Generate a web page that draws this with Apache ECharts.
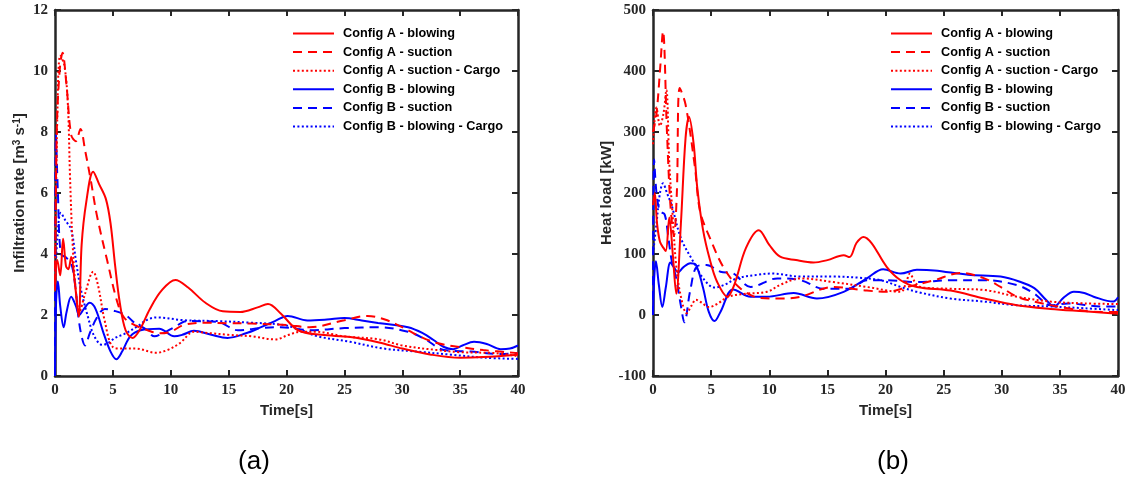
<!DOCTYPE html>
<html>
<head>
<meta charset="utf-8">
<script src="https://cdn.jsdelivr.net/npm/echarts@6/dist/echarts.min.js"></script>
<style>
  html, body { margin: 0; padding: 0; background: #ffffff; }
  #chart { width: 1131px; height: 477px; }
</style>
</head>
<body>
<div id="chart"></div>
<script>
// Series names shared by both panels
const seriesNames = [
  'Config A - blowing',
  'Config A - suction',
  'Config A - suction - Cargo',
  'Config B - blowing',
  'Config B - suction',
  'Config B - blowing - Cargo'
];

// Axis ranges
const timeRange = { min: 0, max: 40, interval: 5 };
const infilRange = { min: 0, max: 12, interval: 2 };
const heatRange = { min: -100, max: 500, interval: 100 };

// (a) Infiltration rate [m3/s] vs time [s]
const infilABlowing = [[0,2.8],[0.2,3.8],[0.45,3.3],[0.7,4.5],[0.95,3.6],[1.15,3.5],[1.4,3.9],[1.7,3.1],[2.05,1.95],[2.3,4.3],[2.7,5.7],[3.3,6.7],[3.8,6.3],[4.4,5.8],[4.8,5.0],[5.2,3.6],[5.6,2.4],[6.1,1.5],[6.7,1.25],[7.3,1.5],[8.2,2.2],[9.2,2.8],[10.4,3.15],[11.5,2.9],[13,2.4],[14.5,2.12],[16,2.1],[17.5,2.25],[18.4,2.36],[19.5,2.05],[21,1.5],[23,1.35],[25.5,1.28],[28,1.1],[30,0.9],[32.5,0.7],[35,0.6],[37,0.62],[40,0.7]];
const infilASuction = [[0,3.0],[0.15,8.0],[0.4,10.0],[0.65,10.6],[1.0,9.5],[1.4,7.9],[1.8,7.7],[2.2,8.1],[2.6,7.4],[3.1,6.4],[3.6,5.3],[4.5,3.8],[5.4,2.4],[6.0,1.9],[7,1.65],[8,1.5],[9,1.4],[10,1.45],[11.1,1.67],[13,1.75],[15,1.73],[17,1.72],[20,1.67],[22,1.6],[25,1.83],[27,1.97],[28.5,1.85],[30,1.6],[31.5,1.3],[33,1.08],[35,0.95],[37,0.85],[40,0.75]];
const infilACargo = [[0,3.0],[0.2,8.5],[0.45,10.5],[0.8,10.2],[1.1,9.0],[1.3,6.5],[1.5,4.5],[1.8,2.8],[2.1,2.1],[2.6,2.7],[3.3,3.42],[3.7,3.0],[4.3,1.8],[5.0,0.95],[5.8,0.9],[7,0.9],[8.7,0.76],[9.7,0.85],[10.8,1.08],[12,1.45],[13.5,1.4],[15,1.35],[17,1.3],[19,1.2],[20.2,1.35],[21.2,1.45],[22.5,1.45],[25,1.3],[28,1.2],[30,1.0],[33,0.85],[35,0.78],[38,0.75],[40,0.65]];
const infilBBlowing = [[0,0],[0.1,2.5],[0.25,3.1],[0.45,2.3],[0.75,1.6],[1.0,2.1],[1.4,2.6],[1.8,2.3],[2.1,2.0],[2.5,2.2],[3.0,2.4],[3.5,2.2],[4.2,1.4],[4.8,0.8],[5.3,0.55],[5.8,0.8],[6.5,1.3],[7.4,1.5],[9,1.55],[10.3,1.3],[11,1.35],[12,1.48],[13.5,1.35],[14.9,1.25],[16.5,1.4],[17.8,1.6],[19,1.8],[20.1,1.97],[21.8,1.82],[23.5,1.85],[25,1.9],[26.5,1.82],[27.9,1.74],[30.5,1.6],[31.8,1.4],[32.7,1.18],[33.6,0.95],[34.4,0.88],[35.2,1.0],[36.2,1.12],[37.3,1.05],[38.5,0.88],[39.3,0.9],[40,1.0]];
const infilBSuction = [[0,0],[0.08,7.9],[0.25,6.0],[0.5,4.0],[0.9,3.9],[1.4,3.7],[1.8,2.8],[2.0,2.0],[2.3,1.3],[2.6,1.0],[3.0,1.4],[3.6,1.9],[4.3,2.2],[5.0,2.15],[6.1,2.0],[7,1.7],[7.8,1.55],[8.6,1.3],[9.3,1.4],[10.3,1.6],[11.4,1.8],[14,1.78],[15.8,1.5],[17.8,1.57],[19.5,1.6],[22.1,1.5],[25,1.57],[27.9,1.6],[30.5,1.45],[32,1.2],[33.6,0.85],[35.9,0.8],[38.5,0.72],[40,0.75]];
const infilBCargo = [[0,3.0],[0.2,4.5],[0.5,5.35],[0.9,5.1],[1.4,4.8],[1.8,3.8],[2.2,2.9],[2.8,2.0],[3.4,1.3],[4.1,1.02],[4.6,1.08],[5.2,1.25],[6,1.38],[7,1.6],[8,1.85],[8.8,1.92],[11.1,1.83],[14,1.8],[16.9,1.75],[19.8,1.67],[21.3,1.5],[22.7,1.3],[25.5,1.12],[28.4,0.9],[31.3,0.8],[34.2,0.7],[37.1,0.6],[40,0.56]];

// (b) Heat load [kW] vs time [s]
const heatABlowing = [[0,180],[0.15,200],[0.35,150],[0.6,120],[0.9,110],[1.1,105],[1.4,160],[1.7,100],[2.0,35],[2.4,150],[2.8,290],[3.1,325],[3.5,280],[3.8,210],[4.3,140],[4.9,90],[5.5,55],[6.4,30],[7.0,50],[8,110],[9.1,139],[10,115],[10.9,96],[12.3,90],[13.8,86],[15,90],[16.4,98],[16.9,95],[17.5,118],[18.1,128],[18.8,118],[20.1,79],[21.3,57],[22.7,46],[25.6,40],[28.5,27],[31.3,16],[34.2,10],[37.1,6],[40,2]];
const heatASuction = [[0,300],[0.3,330],[0.6,400],[0.86,465],[1.2,300],[1.5,180],[1.8,130],[2.05,200],[2.3,372],[2.8,345],[3.6,243],[4.05,170],[4.9,126],[6.1,77],[7.5,44],[9.2,28],[11.2,27],[12.7,30],[15.5,46],[18.4,40],[20.1,38],[21.9,46],[24.2,57],[26.5,69],[28.5,60],[29.9,46],[31.3,30],[32.8,22],[35.7,11],[38.4,5],[40,5]];
const heatACargo = [[0,280],[0.3,340],[0.6,310],[0.9,330],[1.15,369],[1.4,250],[1.7,160],[2.0,80],[2.4,30],[2.9,3],[3.3,15],[3.7,25],[4.2,20],[4.8,13],[5.5,18],[6.5,30],[8,35],[9.8,38],[11,50],[12.7,60],[15.5,54],[18.4,46],[21.3,38],[21.8,55],[22.1,68],[22.5,55],[23,46],[25.6,43],[28.5,41],[31.3,30],[34.2,22],[37.1,19],[40,18]];
const heatBBlowing = [[0,0],[0.1,60],[0.25,88],[0.5,50],[0.8,13],[1.1,45],[1.5,86],[1.8,78],[2.15,70],[2.6,78],[3.2,85],[3.7,82],[4.3,45],[4.8,5],[5.3,-10],[5.8,5],[6.9,42],[8.4,30],[9.8,30],[12.1,36],[14.1,27],[16.4,38],[18.4,60],[19.8,75],[21.3,68],[22.7,74],[24.2,73],[27.1,66],[29.9,63],[31.5,55],[32.8,44],[33.8,25],[34.5,14],[35.3,28],[36.2,38],[37.1,36],[37.9,30],[39.6,22],[40,29]];
const heatBSuction = [[0,0],[0.1,255],[0.3,200],[0.6,170],[1.0,165],[1.3,130],[1.6,90],[2.0,60],[2.4,15],[2.7,-12],[3.2,40],[3.8,80],[4.6,82],[5.8,71],[6.9,68],[8.4,46],[10.7,60],[12.7,57],[14.7,43],[16.9,43],[18.4,57],[20.1,57],[22.7,54],[25.6,57],[28.5,57],[31.3,49],[32.8,35],[34.2,16],[35.7,19],[38.6,14],[40,14]];
const heatBCargo = [[0,100],[0.3,150],[0.6,200],[0.86,216],[1.2,200],[1.6,180],[2.4,126],[3.3,93],[4.4,58],[5.3,45],[6.2,50],[7.2,60],[9,66],[10.2,68],[12.7,63],[15.5,63],[17.8,61],[19.6,57],[21.3,46],[22.7,38],[25.6,27],[28.5,22],[31.3,16],[34.2,14],[37.1,11],[40,8]];

const infilData = [infilABlowing, infilASuction, infilACargo, infilBBlowing, infilBSuction, infilBCargo];
const heatData = [heatABlowing, heatASuction, heatACargo, heatBBlowing, heatBSuction, heatBCargo];

// Line colour and dash per series
const lineColors = ['#ff0000', '#ff0000', '#ff0000', '#0000ff', '#0000ff', '#0000ff'];
const lineTypes = ['solid', [9, 6], [2, 2.4], 'solid', [9, 6], [2, 2.4]];

const frameColor = '#262626';
const tickFont = { fontFamily: 'Liberation Serif', fontWeight: 'bold', fontSize: 15, color: '#262626' };
const titleFont = { fontFamily: 'Liberation Sans', fontWeight: 'bold', fontSize: 15, color: '#262626' };

function frameAxis(extra) {
  return Object.assign({
    type: 'value',
    axisLine: { show: true, onZero: false, lineStyle: { color: frameColor, width: 2.5 } },
    axisTick: { show: true, inside: true, length: 6, lineStyle: { color: frameColor, width: 2 } },
    splitLine: { show: false },
    axisLabel: { show: false }
  }, extra);
}

function labelledAxis(extra) {
  return frameAxis(Object.assign({
    axisLabel: Object.assign({ show: true, margin: 7 }, tickFont)
  }, extra));
}

const xAxes = [];
const yAxes = [];
[0, 1].forEach(g => {
  xAxes.push(labelledAxis(Object.assign({
    gridIndex: g, position: 'bottom',
    name: 'Time[s]', nameLocation: 'middle', nameGap: 26, nameTextStyle: titleFont
  }, timeRange)));
  xAxes.push(frameAxis(Object.assign({ gridIndex: g, position: 'top' }, timeRange)));
});

yAxes.push(labelledAxis(Object.assign({
  gridIndex: 0, position: 'left',
  name: 'Infiltration rate [m{sup|3} s{sup|-1}]', nameLocation: 'middle', nameGap: 28,
  nameTextStyle: Object.assign({}, titleFont, {
    rich: { sup: { fontFamily: 'Liberation Sans', fontWeight: 'bold', fontSize: 10, color: '#262626', verticalAlign: 'top' } }
  })
}, infilRange)));
yAxes.push(frameAxis(Object.assign({ gridIndex: 0, position: 'right' }, infilRange)));
yAxes.push(labelledAxis(Object.assign({
  gridIndex: 1, position: 'left',
  name: 'Heat load [kW]', nameLocation: 'middle', nameGap: 34, nameTextStyle: titleFont
}, heatRange)));
yAxes.push(frameAxis(Object.assign({ gridIndex: 1, position: 'right' }, heatRange)));

const series = [];
[infilData, heatData].forEach((panel, g) => {
  panel.forEach((pts, i) => {
    series.push({
      name: seriesNames[i],
      type: 'line',
      xAxisIndex: g * 2,
      yAxisIndex: g * 2,
      data: pts,
      symbol: 'none',
      showSymbol: false,
      smooth: 0.35,
      lineStyle: { color: lineColors[i], width: 2, type: lineTypes[i] },
      itemStyle: { color: lineColors[i] },
      z: 10 - i
    });
  });
});

function legendAt(left) {
  return {
    left: left, top: 27, orient: 'vertical', padding: 0,
    itemWidth: 41, itemHeight: 12, itemGap: 5.6,
    data: seriesNames,
    itemStyle: { opacity: 0 },
    textStyle: { fontFamily: 'Liberation Sans', fontWeight: 'bold', fontSize: 12.7, color: '#000000', padding: [0, 0, 0, 4] }
  };
}

const chart = echarts.init(document.getElementById('chart'), null, { renderer: 'canvas' });
chart.setOption({
  animation: false,
  backgroundColor: '#ffffff',
  grid: [
    { left: 55, top: 10, width: 463, height: 366 },
    { left: 653, top: 10, width: 465, height: 366 }
  ],
  xAxis: xAxes,
  yAxis: yAxes,
  legend: [legendAt(292), legendAt(890)],
  series: series,
  graphic: [
    { type: 'text', x: 254, y: 462, style: { text: '(a)', fontFamily: 'Liberation Sans', fontSize: 26, fill: '#000', textAlign: 'center', textVerticalAlign: 'middle' } },
    { type: 'text', x: 893, y: 462, style: { text: '(b)', fontFamily: 'Liberation Sans', fontSize: 26, fill: '#000', textAlign: 'center', textVerticalAlign: 'middle' } }
  ]
});
</script>
</body>
</html>
